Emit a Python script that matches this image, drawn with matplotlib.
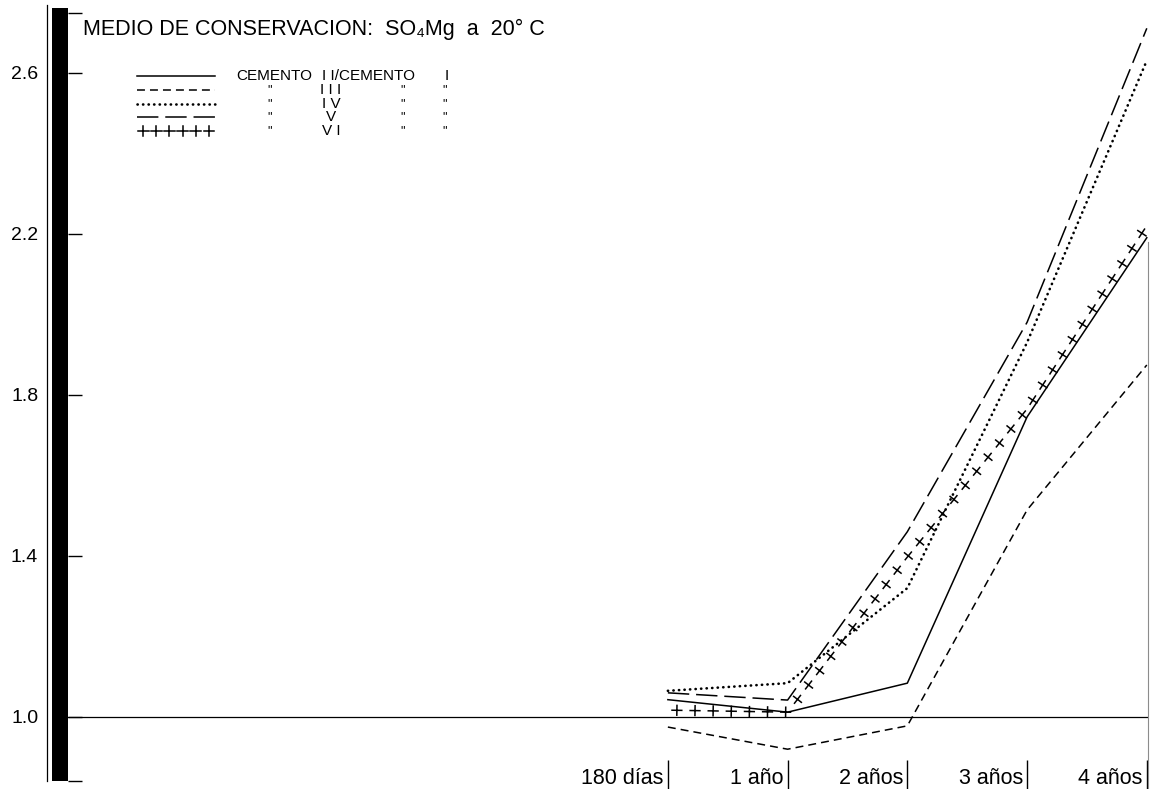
import matplotlib
matplotlib.use('Agg')
import matplotlib.pyplot as plt
import matplotlib.patheffects as pe
from matplotlib.lines import Line2D
from matplotlib.patches import Rectangle
from matplotlib.transforms import ScaledTranslation

# periodos de ensayo y relaciones cemento X / cemento I
periodos = ['180 días', '1 año', '2 años', '3 años', '4 años']
cem_2 = [1.043, 1.012, 1.084, 1.745, 2.19]
cem_3 = [0.975, 0.92, 0.978, 1.514, 1.874]
cem_4 = [1.065, 1.084, 1.32, 1.93, 2.63]
cem_5 = [1.06, 1.042, 1.46, 1.98, 2.71]
cem_6 = [1.017, 1.012, 1.397, 1.765, 2.22]
y_ticks = [1.0, 1.4, 1.8, 2.2, 2.6]
numerales = ['I I', 'I I I', 'I V', 'V', 'V I']

W, H = 1150, 789


def fx(px):
    return px / W


def fy(py):
    return 1 - py / H


def cruces(spacing, length):
    # solo las cruces, sin la linea continua
    return [pe.TickedStroke(angle=a, spacing=spacing, length=length)
            for a in (90, -90, 0, 180)]


plt.rcParams['font.family'] = ['Liberation Sans', 'DejaVu Sans']

estilos = [
    dict(ls='-', lw=1.1),
    dict(ls=(0, (5.2, 3.3)), lw=1.1),
    dict(ls=(0, (0.1, 2.0)), lw=1.9, dash_capstyle='round'),
    dict(ls=(0, (14, 4.5)), lw=1.1),
    dict(ls='-', lw=1.1),
]

fig = plt.figure(figsize=(11.5, 7.89), dpi=100)
ax = fig.add_axes([fx(68), 0, fx(1148) - fx(68), fy(13)])

x = list(range(len(periodos)))
series = [cem_2, cem_3, cem_4, cem_5, cem_6]
for i, (s, st) in enumerate(zip(series, estilos)):
    line, = ax.plot(x, s, color='black', **st)
    if i == 4:
        line.set_path_effects(cruces(13, 0.27))

ax.axhline(1.0, color='black', lw=0.9)

ax.set_xlim(-5.01, 4.01)
ax.set_ylim(0.8212, 2.748)

for side in ['top', 'left', 'bottom']:
    ax.spines[side].set_visible(False)
ax.spines['right'].set_bounds(0.8212, 2.18)
ax.spines['right'].set_color('0.55')
ax.spines['right'].set_linewidth(0.8)

ax.set_yticks(y_ticks)
ax.set_yticklabels([f'{v:.1f}' for v in y_ticks])
ax.set_yticks([0.841, 2.748], minor=True)
ax.tick_params(axis='y', which='both', direction='in', length=10, width=1, pad=21.5, labelsize=14)

ax.set_xticks(x)
ax.set_xticklabels(periodos)
ax.tick_params(axis='x', direction='in', length=21, width=1, pad=-15, labelsize=15.5)
desplaza = ScaledTranslation(-4 / 100, 0, fig.dpi_scale_trans)
for lab in ax.get_xticklabels():
    lab.set_horizontalalignment('right')
    lab.set_transform(lab.get_transform() + desplaza)

# eje izquierdo: barra negra y linea fina
fig.add_artist(Rectangle((fx(52), fy(781)), fx(68) - fx(52), fy(8) - fy(781),
                         transform=fig.transFigure, color='black', lw=0))
fig.add_artist(Line2D([fx(47), fx(47)], [fy(5), fy(781)], transform=fig.transFigure,
                      color='black', lw=0.9))

fig.text(fx(83), fy(35), 'MEDIO DE CONSERVACION:  SO₄Mg  a  20° C',
         fontsize=15.5, va='baseline', ha='left')

# leyenda
filas = [76, 90, 104, 117, 131]
for i, (yy, st) in enumerate(zip(filas, estilos)):
    ln = Line2D([fx(137), fx(215)], [fy(yy), fy(yy)], transform=fig.transFigure,
                color='black', **st)
    if i == 4:
        ln.set_path_effects(cruces(9, 0.42))
    fig.add_artist(ln)
    if i == 0:
        fig.text(fx(236), fy(yy), 'CEMENTO', fontsize=11, va='center')
        fig.text(fx(322), fy(yy), 'I I/CEMENTO', fontsize=11, va='center')
        fig.text(fx(445), fy(yy), 'I', fontsize=11, va='center')
    else:
        fig.text(fx(331), fy(yy), numerales[i], fontsize=11, ha='center', va='center')
        for xd in (270, 403, 445):
            fig.text(fx(xd), fy(yy), '"', fontsize=9, ha='center', va='center')

fig.savefig('out.png', dpi=100)
